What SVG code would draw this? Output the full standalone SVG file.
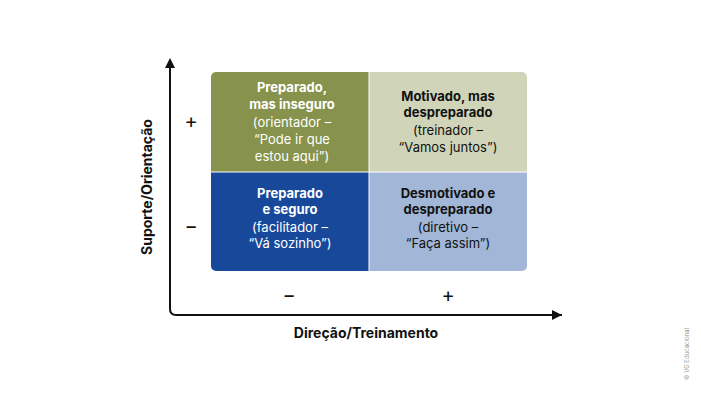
<svg xmlns="http://www.w3.org/2000/svg" width="701" height="401" viewBox="0 0 701 401">
<defs>
<style>
text{font-family:Inter,Roboto,"Liberation Sans",sans-serif;text-anchor:middle;}
.b{font-weight:bold;font-size:13px;}
.r{font-size:13px;}
.w{fill:#ffffff;}
.k{fill:#111111;}
.ax{fill:none;stroke:#111;stroke-width:2;}
.sg{font-size:20px;fill:#111;}
.lab{font-weight:bold;font-size:14px;fill:#111;}
</style>
<marker id="ah" markerWidth="10" markerHeight="10" refX="10" refY="5" orient="auto" markerUnits="userSpaceOnUse">
<path d="M0,0 L10,5 L0,10 Z" fill="#111"/>
</marker>
<clipPath id="gc"><rect x="211" y="72" width="316" height="199" rx="5"/></clipPath>
</defs>
<rect width="701" height="401" fill="#fff"/>
<g id="connectors">
<path class="ax" d="M170,62 L170,309 Q170,315 176,315 L562,315" marker-end="url(#ah)"/>
<polygon points="170,58 165,68 175,68" fill="#111"/>
</g>
<g clip-path="url(#gc)">
<g id="q-tl"><rect x="211" y="72" width="158" height="100" fill="#87924C"/>
<text class="b w" x="292" y="92">Preparado,</text>
<text class="b w" x="292" y="109">mas inseguro</text>
<text class="r w" x="292" y="127">(orientador –</text>
<text class="r w" x="292" y="144">“Pode ir que</text>
<text class="r w" x="292" y="161">estou aqui”)</text>
</g>
<g id="q-tr"><rect x="369" y="72" width="158" height="100" fill="#D0D5B9"/>
<text class="b k" x="448" y="101">Motivado, mas</text>
<text class="b k" x="448" y="117">despreparado</text>
<text class="r k" x="448" y="135">(treinador –</text>
<text class="r k" x="448" y="152">“Vamos juntos”)</text>
</g>
<g id="q-bl"><rect x="211" y="172" width="158" height="99" fill="#18489A"/>
<text class="b w" x="290" y="198">Preparado</text>
<text class="b w" x="290" y="214">e seguro</text>
<text class="r w" x="290" y="232">(facilitador –</text>
<text class="r w" x="290" y="248">“Vá sozinho”)</text>
</g>
<g id="q-br"><rect x="369" y="172" width="158" height="99" fill="#A2B7D7"/>
<text class="b k" x="448" y="198">Desmotivado e</text>
<text class="b k" x="448" y="214">despreparado</text>
<text class="r k" x="448" y="232">(diretivo –</text>
<text class="r k" x="448" y="248">“Faça assim”)</text>
</g>
<line x1="369" y1="72" x2="369" y2="271" stroke="#ffffff" stroke-width="1"/>
<line x1="211" y1="172" x2="527" y2="172" stroke="#ffffff" stroke-width="1"/>
</g>
<g id="signs">
<text class="sg" x="191" y="128">+</text>
<text class="sg" x="191" y="233">−</text>
<text class="sg" x="289" y="302">−</text>
<text class="sg" x="448" y="302">+</text>
</g>
<text class="lab" x="366" y="338">Direção/Treinamento</text>
<text class="lab" transform="translate(152,187) rotate(-90)">Suporte/Orientação</text>
<text transform="translate(689,354) rotate(-90)" style="font-size:6px;fill:#999;">© VG Educacional</text>
</svg>
